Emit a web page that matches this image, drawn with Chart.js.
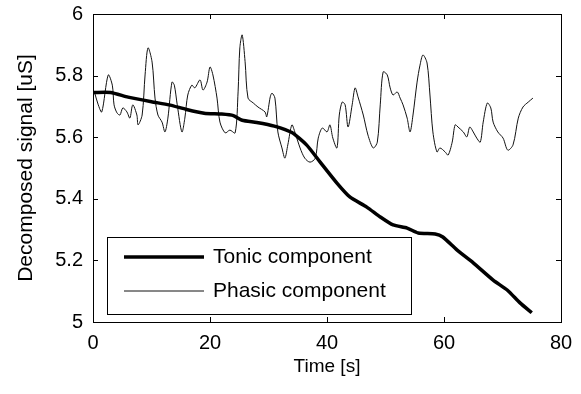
<!DOCTYPE html>
<html>
<head>
<meta charset="utf-8">
<script src="https://cdn.jsdelivr.net/npm/chart.js@4.4.1/dist/chart.umd.min.js"></script>
<style>
html,body{margin:0;padding:0;background:#fff}
#wrap{width:581px;height:394px}
</style>
</head>
<body>
<div id="wrap"><canvas id="Chart1HTML" width="581" height="394"></canvas></div>
<script>
// tonic (slow) component
let TonicT=[0,3,6,10,13,16,19,22,24,25.5,28,31,34,36.5,38.8,41.7,43.9,46.8,49.1,51.3,53.7,55.6,58.5,59.8,62.2,65,68.4,70.8,73,75]
let TonicV=[5.745,5.745,5.73,5.715,5.705,5.69,5.678,5.675,5.67,5.655,5.648,5.636,5.615,5.575,5.52,5.451,5.406,5.373,5.341,5.315,5.305,5.289,5.286,5.276,5.234,5.192,5.136,5.104,5.062,5.03]

// phasic (fast) component
let PhasicT=[0.3,0.9,1.5,2.6,3.3,3.6,4.1,4.6,5.1,5.8,6.3,6.8,7.5,7.7,8.4,8.9,9.4,10.1,10.6,11.1,11.8,12.3,12.8,13.5,13.9,14.4,15.2,15.7,16.2,16.9,17.4,18.3,18.8,19.5,20.0,20.5,21.2,21.7,22.6,23.4,24.3,24.8,25.1,25.5,26.0,26.5,27.4,28.2,29.4,29.7,30.3,30.6,31.1,31.6,32.3,32.8,33.3,34.0,34.5,35.4,36.2,37.1,38.0,38.5,39.2,40.0,40.5,41.0,41.7,42.1,42.6,43.1,43.6,44.3,44.8,45.3,46.2,47.0,47.9,48.6,49.1,49.6,50.3,50.8,51.3,52.0,52.5,53.0,53.7,54.2,54.7,55.4,55.9,56.4,57.1,57.6,58.1,58.8,59.3,60.2,60.7,61.4,61.9,62.4,63.3,63.9,64.4,65.0,65.6,66.2,66.7,67.4,68.0,68.4,69.2,70.1,70.9,71.8,72.7,73.5,74.4,75.2]
let PhasicV=[5.743,5.705,5.682,5.802,5.769,5.705,5.679,5.672,5.695,5.682,5.662,5.705,5.672,5.640,5.672,5.802,5.890,5.844,5.727,5.672,5.649,5.617,5.662,5.779,5.769,5.705,5.617,5.662,5.737,5.769,5.760,5.786,5.753,5.779,5.828,5.802,5.727,5.649,5.614,5.623,5.614,5.747,5.890,5.932,5.845,5.727,5.711,5.698,5.682,5.666,5.731,5.743,5.727,5.617,5.565,5.532,5.575,5.640,5.617,5.565,5.532,5.519,5.532,5.597,5.630,5.617,5.640,5.597,5.565,5.672,5.714,5.705,5.633,5.705,5.760,5.731,5.672,5.607,5.565,5.584,5.705,5.812,5.802,5.760,5.737,5.747,5.727,5.705,5.662,5.617,5.672,5.779,5.834,5.867,5.841,5.737,5.617,5.552,5.565,5.552,5.542,5.584,5.640,5.633,5.617,5.601,5.633,5.617,5.597,5.584,5.649,5.711,5.695,5.649,5.617,5.597,5.558,5.575,5.662,5.698,5.714,5.727]

let XTicks=[0,20,40,60,80]
let YTicks=[5,5.2,5.4,5.6,5.8,6]
let SeriesNames=["Tonic component","Phasic component"]

const FONT="'Liberation Sans', Arial, sans-serif"

function Pairs(T,V){return T.map((t,i)=>({x:t,y:V[i]}))}

//								BOX + INWARD TICKS
const boxPlugin={
id:'box',
afterDatasetsDraw(chart){
const {ctx,chartArea:a,scales:{x,y}}=chart
ctx.save()
ctx.strokeStyle='#000'
ctx.lineWidth=1
ctx.strokeRect(a.left+0.5,a.top+0.5,a.right-a.left,a.bottom-a.top)
ctx.beginPath()
XTicks.forEach(v=>{
let p=Math.round(x.getPixelForValue(v))+0.5
ctx.moveTo(p,a.bottom);ctx.lineTo(p,a.bottom-5)
ctx.moveTo(p,a.top);ctx.lineTo(p,a.top+5)
})
YTicks.forEach(v=>{
let p=Math.round(y.getPixelForValue(v))+0.5
ctx.moveTo(a.left,p);ctx.lineTo(a.left+5,p)
ctx.moveTo(a.right,p);ctx.lineTo(a.right-5,p)
})
ctx.stroke()
ctx.restore()
}
}

//								LEGEND INSIDE
const legendPlugin={
id:'innerLegend',
afterDraw(chart){
const {ctx,chartArea:a}=chart
let L=a.left+14,T=a.top+223,W=304,H=77
ctx.save()
ctx.fillStyle='#fff'
ctx.fillRect(L,T,W,H)
ctx.strokeStyle='#000'
ctx.lineWidth=1
ctx.strokeRect(L+0.5,T+0.5,W,H)
chart.data.datasets.forEach((ds,i)=>{
let yy=T+20+i*34
ctx.beginPath()
ctx.lineWidth=ds.borderWidth
ctx.strokeStyle=ds.borderColor
ctx.moveTo(L+17,yy);ctx.lineTo(L+97,yy)
ctx.stroke()
ctx.fillStyle='#000'
ctx.font='21px '+FONT
ctx.textBaseline='middle'
ctx.fillText(ds.label,L+106,yy)
})
ctx.restore()
}
}

let Chart1=new Chart(
document.getElementById('Chart1HTML'),
{
type:'line',
data:{
datasets:[
{label:SeriesNames[0],data:Pairs(TonicT,TonicV),borderColor:'#000',borderWidth:3.5,pointRadius:0,tension:0.2},
{label:SeriesNames[1],data:Pairs(PhasicT,PhasicV),borderColor:'#111',borderWidth:1,pointRadius:0,tension:0.3}
]
},
options:{
responsive:false,
animation:false,
events:[],
layout:{padding:{left:0,top:14,right:20,bottom:0}},
plugins:{legend:{display:false},tooltip:{enabled:false}},
scales:{
x:{
type:'linear',min:0,max:80,
afterBuildTicks:s=>{s.ticks=XTicks.map(v=>({value:v}))},
afterFit:s=>{s.height=72;s.paddingLeft=0;s.paddingRight=0},
grid:{display:false,drawTicks:false},
border:{display:false},
ticks:{color:'#000',font:{family:FONT,size:20},padding:9,maxRotation:0},
title:{display:true,text:'Time [s]',color:'#000',font:{family:FONT,size:19},padding:{top:0,bottom:16}}
},
y:{
type:'linear',min:5,max:6,
afterBuildTicks:s=>{s.ticks=YTicks.map(v=>({value:v}))},
afterFit:s=>{s.width=93;s.paddingTop=0;s.paddingBottom=0},
grid:{display:false,drawTicks:false},
border:{display:false},
ticks:{color:'#000',font:{family:FONT,size:20},padding:10,callback:v=>String(Math.round(v*10)/10)},
title:{display:true,text:'Decomposed signal [uS]',color:'#000',font:{family:FONT,size:21},padding:{top:14,bottom:0}}
}
}
},
plugins:[boxPlugin,legendPlugin]
}
)
</script>
</body>
</html>
